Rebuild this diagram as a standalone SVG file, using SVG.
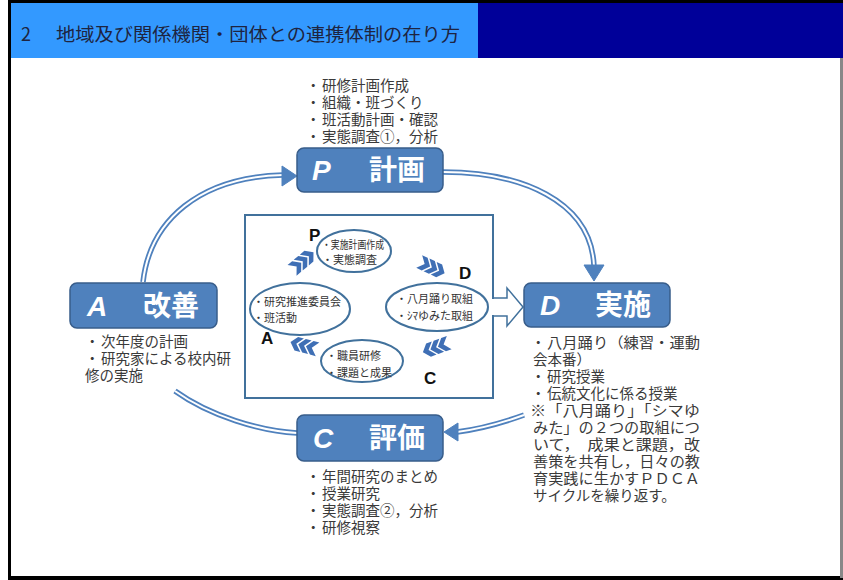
<svg xmlns="http://www.w3.org/2000/svg" xmlns:xlink="http://www.w3.org/1999/xlink" width="843" height="580" viewBox="0 0 843 580">
<style>
.box{fill:#4F81BD;stroke:#385D8A;stroke-width:1.5}
.bl{font-family:"Liberation Sans",sans-serif;font-weight:bold;font-style:italic;font-size:28px;fill:#fff}
.bk{font-family:"Noto Sans CJK JP",sans-serif;font-weight:bold;font-size:28px;fill:#fff}
.t{font-family:"Noto Sans CJK JP",sans-serif;font-size:14.5px;fill:#3a3a3a}
.s{font-family:"Noto Sans CJK JP",sans-serif;font-size:11px;fill:#333}
.el{fill:#fff;stroke:#41719C;stroke-width:2}
.ltr{font-family:"Liberation Sans",sans-serif;font-weight:bold;font-size:17px;fill:#111}
.arcO{fill:none;stroke:#4F81BD;stroke-width:5.5}
.arcI{fill:none;stroke:#fff;stroke-width:2}
.head{fill:#4F81BD;stroke:#4F81BD;stroke-width:1}
.chev{fill:#3F6FB5}
</style>
<defs>
<path id="chv" d="M-5,-7 L1,-7 L7,0 L1,7 L-5,7 L1,0 Z"/>
</defs>
<rect width="843" height="580" fill="#fff"/>
<g id="header">
<rect x="11" y="3" width="467" height="55" fill="#3399FF"/>
<rect x="478" y="3" width="365" height="55" fill="#000099"/>
<text y="41" font-family="'Noto Sans CJK JP',sans-serif" font-size="18" fill="#1e2440"><tspan x="21">2</tspan><tspan x="56" textLength="404" lengthAdjust="spacingAndGlyphs">地域及び関係機関・団体との連携体制の在り方</tspan></text>
</g>
<g id="frame">
<rect x="8" y="0" width="835" height="3" fill="#000"/>
<rect x="8" y="0" width="3" height="580" fill="#000"/>
<rect x="8" y="576" width="835" height="4" fill="#000"/>
<rect x="840" y="58" width="3" height="520" fill="#888"/>
</g>
<g id="connectors">
<path class="arcO" d="M143 282 C150 220 200 177 283 175"/>
<path class="arcI" d="M143 282 C150 220 200 177 283 175"/>
<polygon class="head" points="282,166 297,176 282,186"/>
<path class="arcO" d="M443 172 C520 172 591 200 594 266"/>
<path class="arcI" d="M443 172 C520 172 591 200 594 266"/>
<polygon class="head" points="584,265 604,265 594,281"/>
<path class="arcO" d="M524 415 C502 423 480 429 457 432"/>
<path class="arcI" d="M524 415 C502 423 480 429 457 432"/>
<polygon class="head" points="458,423 444,432 458,441"/>
<path class="arcO" d="M297 433 C260 431 210 416 175 391"/>
<path class="arcI" d="M297 433 C260 431 210 416 175 391"/>
<polygon points="493,298 507,298 507,288 523,307 507,326 507,316 493,316" fill="#fff" stroke="#41719C" stroke-width="1.5"/>
</g>
<g id="inner">
<rect x="245" y="215" width="248" height="183" fill="#fff" stroke="#41719C" stroke-width="2"/>
<rect x="492" y="299" width="3" height="16" fill="#fff"/>
<g class="chev" transform="translate(302,262) rotate(-40)"><use xlink:href="#chv" x="-8"/><use xlink:href="#chv"/><use xlink:href="#chv" x="8"/></g>
<g class="chev" transform="translate(431,267) rotate(25)"><use xlink:href="#chv" x="-8"/><use xlink:href="#chv"/><use xlink:href="#chv" x="8"/></g>
<g class="chev" transform="translate(437,347) rotate(160)"><use xlink:href="#chv" x="-8"/><use xlink:href="#chv"/><use xlink:href="#chv" x="8"/></g>
<g class="chev" transform="translate(305,346) rotate(195)"><use xlink:href="#chv" x="-8"/><use xlink:href="#chv"/><use xlink:href="#chv" x="8"/></g>
<text class="ltr" x="309" y="241">P</text>
<text class="ltr" x="459" y="279">D</text>
<text class="ltr" x="261" y="344">A</text>
<text class="ltr" x="424" y="384">C</text>
</g>
<g id="ep">
<ellipse class="el" cx="354" cy="251" rx="37" ry="21"/>
<text class="s" x="322" y="249" textLength="62" lengthAdjust="spacingAndGlyphs">・実施計画作成</text>
<text class="s" x="322" y="264">・実態調査</text>
</g>
<g id="ed">
<ellipse class="el" cx="437" cy="307" rx="51" ry="24"/>
<text class="s" x="396" y="303">・八月踊り取組</text>
<text class="s" x="396" y="320">・ｼﾏゆみた取組</text>
</g>
<g id="ea">
<ellipse class="el" cx="300" cy="309" rx="50" ry="26"/>
<text class="s" x="253" y="306" textLength="88" lengthAdjust="spacingAndGlyphs">・研究推進委員会</text>
<text class="s" x="253" y="322">・班活動</text>
</g>
<g id="ec">
<ellipse class="el" cx="362" cy="361" rx="41" ry="21"/>
<text class="s" x="326" y="360">・職員研修</text>
<text class="s" x="326" y="377">・課題と成果</text>
</g>
<g id="nodeP">
<rect class="box" x="297" y="148" width="146" height="44" rx="7"/>
<text class="bl" x="312" y="180" font-style="normal">P</text>
<text class="bk" x="369" y="180">計画</text>
<text class="t" y="91"><tspan x="306">・</tspan><tspan x="322">研修計画作成</tspan></text>
<text class="t" y="108"><tspan x="306">・</tspan><tspan x="322">組織・班づくり</tspan></text>
<text class="t" y="125"><tspan x="306">・</tspan><tspan x="322">班活動計画・確認</tspan></text>
<text class="t" y="142"><tspan x="306">・</tspan><tspan x="322">実態調査①，分析</tspan></text>
</g>
<g id="nodeA">
<rect class="box" x="70" y="283" width="147" height="45" rx="7"/>
<text class="bl" x="87" y="316">A</text>
<text class="bk" x="143" y="316">改善</text>
<text class="t" y="347"><tspan x="85">・</tspan><tspan x="101">次年度の計画</tspan></text>
<text class="t" y="364"><tspan x="85">・</tspan><tspan x="101">研究家による校内研</tspan></text>
<text class="t" x="85" y="381">修の実施</text>
</g>
<g id="nodeD">
<rect class="box" x="524" y="283" width="146" height="44" rx="7"/>
<text class="bl" x="540" y="315">D</text>
<text class="bk" x="595" y="315">実施</text>
<text class="t" y="348"><tspan x="531">・</tspan><tspan x="547" textLength="153" lengthAdjust="spacingAndGlyphs">八月踊り（練習・運動</tspan></text>
<text class="t" x="533" y="365">会本番）</text>
<text class="t" y="382"><tspan x="531">・</tspan><tspan x="547">研究授業</tspan></text>
<text class="t" y="399"><tspan x="531">・</tspan><tspan x="547">伝統文化に係る授業</tspan></text>
<text class="t" x="530" y="416" textLength="170" lengthAdjust="spacingAndGlyphs">※「八月踊り」「シマゆ</text>
<text class="t" x="533" y="433" textLength="167" lengthAdjust="spacingAndGlyphs">みた」の２つの取組につ</text>
<text class="t" x="533" y="450" textLength="167" lengthAdjust="spacingAndGlyphs">いて，　成果と課題，改</text>
<text class="t" x="533" y="467" textLength="167" lengthAdjust="spacingAndGlyphs">善策を共有し，日々の教</text>
<text class="t" x="533" y="484" textLength="167" lengthAdjust="spacingAndGlyphs">育実践に生かすＰＤＣＡ</text>
<text class="t" x="533" y="501">サイクルを繰り返す。</text>
</g>
<g id="nodeC">
<rect class="box" x="297" y="415" width="146" height="46" rx="7"/>
<text class="bl" x="313" y="448">C</text>
<text class="bk" x="369" y="448">評価</text>
<text class="t" y="482"><tspan x="306">・</tspan><tspan x="322">年間研究のまとめ</tspan></text>
<text class="t" y="499"><tspan x="306">・</tspan><tspan x="322">授業研究</tspan></text>
<text class="t" y="516"><tspan x="306">・</tspan><tspan x="322">実態調査②，分析</tspan></text>
<text class="t" y="533"><tspan x="306">・</tspan><tspan x="322">研修視察</tspan></text>
</g>
</svg>
